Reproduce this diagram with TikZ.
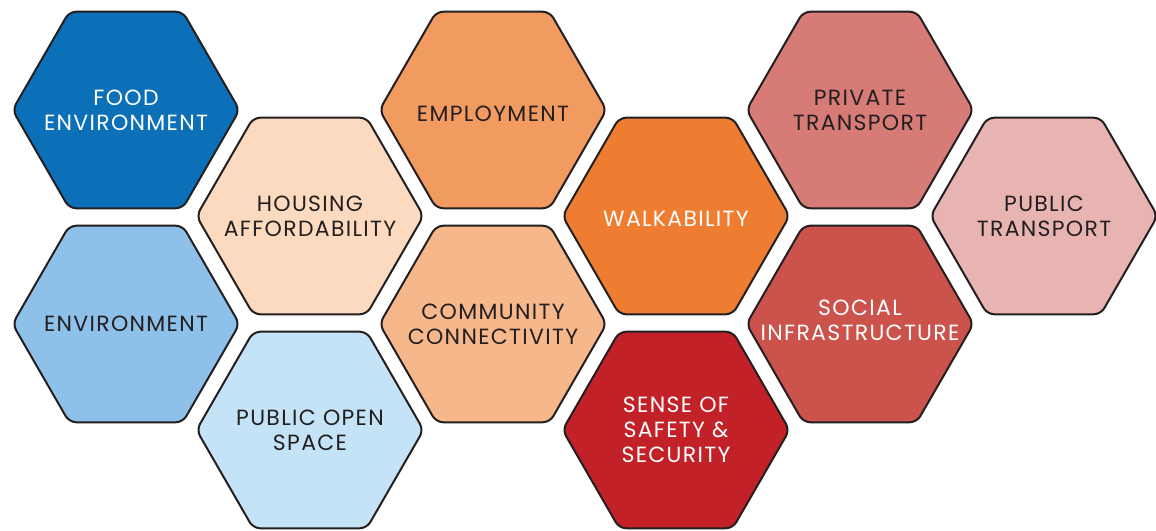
\documentclass[tikz,border=0pt]{standalone}
\usepackage{fontspec}
\setmainfont{Poppins}[LetterSpace=6]
\usetikzlibrary{shapes.geometric}

\definecolor{fooddark}{HTML}{0B70B8}
\definecolor{envblue}{HTML}{8DC1E9}
\definecolor{posblue}{HTML}{C5E3F6}
\definecolor{housepeach}{HTML}{FBDABF}
\definecolor{jobsorange}{HTML}{F29B60}
\definecolor{commorange}{HTML}{F6B88B}
\definecolor{walkorange}{HTML}{EE7D31}
\definecolor{safered}{HTML}{C22128}
\definecolor{privrose}{HTML}{D77B76}
\definecolor{socialred}{HTML}{CC524C}
\definecolor{pubrose}{HTML}{E7B4B2}
\definecolor{inkgrey}{HTML}{231F20}

\begin{document}
\begin{tikzpicture}[x=1pt, y=-1pt,
    hexa/.style={regular polygon, regular polygon sides=6, draw=inkgrey, line width=2pt,
      rounded corners=7pt, minimum size=227pt, inner sep=0pt},
    every label/.style={align=center, font=\fontsize{22}{25}\selectfont, text=inkgrey}]
  \useasboundingbox (0, 0) rectangle (1156, 530);
  \node [hexa, fill=fooddark, label={[text=white]center:FOOD\\ENVIRONMENT}] (food) at (126, 110) {};
  \node [hexa, fill=envblue, label={center:ENVIRONMENT}] (env) at (126, 324) {};
  \node [hexa, fill=housepeach, label={center:HOUSING\\AFFORDABILITY}] (housing) at (310, 216) {};
  \node [hexa, fill=posblue, label={center:PUBLIC OPEN\\SPACE}] (pos) at (310, 430) {};
  \node [hexa, fill=jobsorange, label={[yshift=-4pt]center:EMPLOYMENT}] (jobs) at (493, 110) {};
  \node [hexa, fill=commorange, label={center:COMMUNITY\\CONNECTIVITY}] (comm) at (493, 324) {};
  \node [hexa, fill=walkorange, label={[text=white, yshift=-3pt]center:WALKABILITY}] (walk) at (676, 216) {};
  \node [hexa, fill=safered, label={[text=white]center:SENSE OF\\SAFETY \&\\SECURITY}] (safety) at (676, 430) {};
  \node [hexa, fill=privrose, label={center:PRIVATE\\TRANSPORT}] (private) at (860, 110) {};
  \node [hexa, fill=socialred, label={[text=white, yshift=4pt]center:SOCIAL\\INFRASTRUCTURE}] (social) at (860, 324) {};
  \node [hexa, fill=pubrose, label={center:PUBLIC\\TRANSPORT}] (public) at (1044, 216) {};
\end{tikzpicture}
\end{document}
